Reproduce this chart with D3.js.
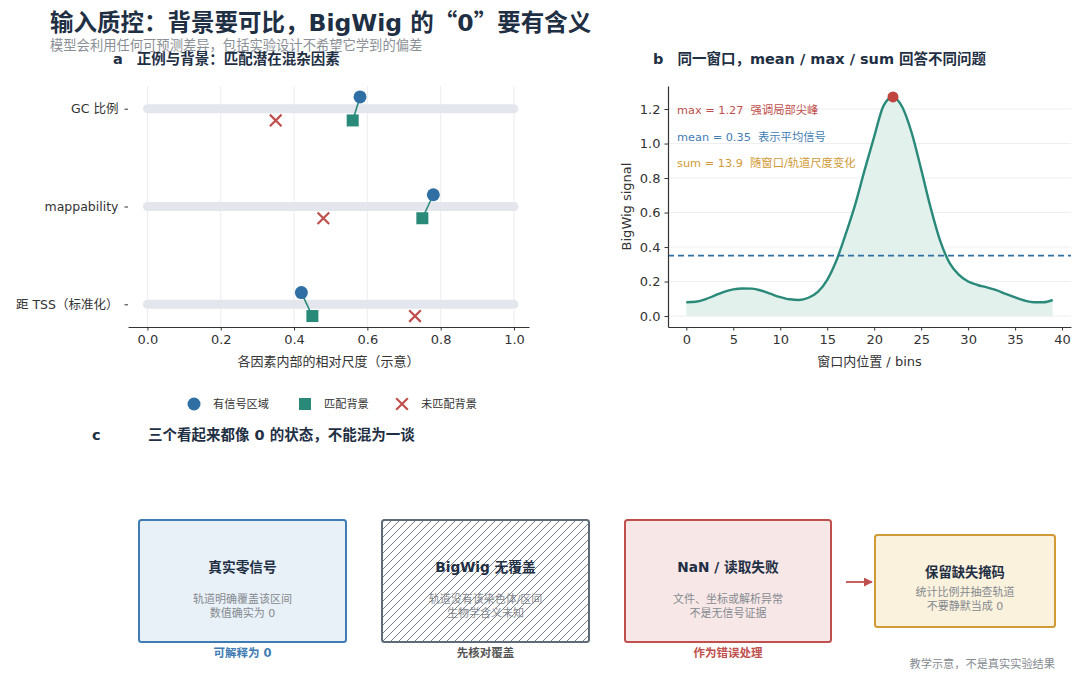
<!DOCTYPE html>
<html>
<head>
<meta charset="utf-8">
<script src="https://cdn.jsdelivr.net/npm/d3@7"></script>
<style>
  body { margin: 0; background: #fff; }
  svg { font-family: "DejaVu Sans", "Noto Sans CJK SC", sans-serif; }
</style>
</head>
<body>
<div id="chart"></div>
<script>
// ---- data ----
const factors = ['GC 比例', 'mappability', '距 TSS（标准化）'];
const signalRegion = [0.58, 0.78, 0.42];
const matchedBg = [0.56, 0.75, 0.45];
const unmatchedBg = [0.35, 0.48, 0.73];
const ticksA = [0, 0.2, 0.4, 0.6, 0.8, 1.0];
const legendLabels = ['有信号区域', '匹配背景', '未匹配背景'];

const bigwig = [0.08, 0.083, 0.097, 0.118, 0.14, 0.155, 0.16, 0.159, 0.147, 0.128,
                0.11, 0.097, 0.093, 0.106, 0.14, 0.21, 0.325, 0.48, 0.65, 0.85,
                1.04, 1.22, 1.27, 1.21, 1.06, 0.85, 0.63, 0.44, 0.31, 0.24,
                0.20, 0.18, 0.166, 0.15, 0.128, 0.108, 0.09, 0.08, 0.08, 0.093];
const ticksBx = [0, 5, 10, 15, 20, 25, 30, 35, 40];
const ticksBy = [0, 0.2, 0.4, 0.6, 0.8, 1.0, 1.2];
const meanValue = 0.35;
const statLines = ['max = 1.27  强调局部尖峰', 'mean = 0.35  表示平均信号', 'sum = 13.9  随窗口/轨道尺度变化'];

const boxTitles = ['真实零信号', 'BigWig 无覆盖', 'NaN / 读取失败', '保留缺失掩码'];
const boxLines = [
    ['轨道明确覆盖该区间', '数值确实为 0'],
    ['轨道没有该染色体/区间', '生物学含义未知'],
    ['文件、坐标或解析异常', '不是无信号证据'],
    ['统计比例并抽查轨道', '不要静默当成 0']
];
const boxCaptions = ['可解释为 0', '先核对覆盖', '作为错误处理', ''];

// ---- colours ----
const C = {
    blue: '#2f6fa3', teal: '#2a8a7a', red: '#c0504d', gold: '#d19a35',
    navy: '#1f2f44', grey: '#7a7f86', dark: '#333'
};
const CJK = '"Noto Sans CJK SC", sans-serif';

const W = 1080, H = 680;
const svg = d3.select('#chart').append('svg')
    .attr('width', W).attr('height', H);
svg.append('rect').attr('width', W).attr('height', H).attr('fill', '#fff');

// ---- titles ----
const title = svg.append('text').attr('x', 50).attr('y', 31)
    .attr('font-size', 23.5).attr('font-weight', 700).attr('fill', C.navy);
title.append('tspan').text('输入质控：背景要可比，BigWig 的');
title.append('tspan').attr('font-family', CJK).text('“');
title.append('tspan').text('0');
title.append('tspan').attr('font-family', CJK).text('”');
title.append('tspan').text('要有含义');

svg.append('text').attr('x', 50).attr('y', 50)
    .attr('font-size', 13.3).attr('fill', '#8a8f96')
    .text('模型会利用任何可预测差异，包括实验设计不希望它学到的偏差');

function panelTitle(x, y, letter, text) {
    let t = svg.append('text').attr('x', x).attr('y', y)
        .attr('font-size', 14.5).attr('font-weight', 700).attr('fill', C.navy);
    t.append('tspan').text(letter);
    t.append('tspan').attr('dx', 14).text(text);
}
panelTitle(113, 64, 'a', '正例与背景：匹配潜在混杂因素');
panelTitle(653, 64, 'b', '同一窗口，mean / max / sum 回答不同问题');
svg.append('text').attr('x', 92).attr('y', 440)
    .attr('font-size', 14.5).attr('font-weight', 700).attr('fill', C.navy).text('c');
svg.append('text').attr('x', 148).attr('y', 440)
    .attr('font-size', 14.5).attr('font-weight', 700).attr('fill', C.navy)
    .text('三个看起来都像 0 的状态，不能混为一谈');

function styleAxis(g) {
    g.attr('font-family', null).attr('font-size', null);
    g.selectAll('.domain').attr('stroke', '#333').attr('stroke-width', 1.2);
    g.selectAll('.tick line').attr('stroke', '#333');
    g.selectAll('.tick text').attr('fill', C.dark).attr('font-size', 13);
}

// ---- panel a ----
const xA = d3.scaleLinear().domain([-0.053, 1.041]).range([128, 529]);
const yA = d3.scaleLinear().domain([-0.232, 2.232]).range([86, 327]);
const off = 0.12;
const pa = svg.append('g');

pa.selectAll('line.grid').data(ticksA).join('line')
    .attr('x1', d => xA(d)).attr('x2', d => xA(d))
    .attr('y1', yA.range()[0]).attr('y2', yA.range()[1])
    .attr('stroke', '#ececef').attr('stroke-width', 1);

pa.selectAll('line.track').data(factors).join('line')
    .attr('x1', xA(0)).attr('x2', xA(1))
    .attr('y1', (d, i) => yA(i)).attr('y2', (d, i) => yA(i))
    .attr('stroke', '#e3e6ec').attr('stroke-width', 9).attr('stroke-linecap', 'round');

pa.selectAll('line.link').data(factors).join('line')
    .attr('x1', (d, i) => xA(signalRegion[i])).attr('y1', (d, i) => yA(i - off))
    .attr('x2', (d, i) => xA(matchedBg[i])).attr('y2', (d, i) => yA(i + off))
    .attr('stroke', C.teal).attr('stroke-width', 1.6);

pa.selectAll('circle.sig').data(signalRegion).join('circle')
    .attr('cx', d => xA(d)).attr('cy', (d, i) => yA(i - off))
    .attr('r', 6.5).attr('fill', C.blue);

pa.selectAll('rect.bg').data(matchedBg).join('rect')
    .attr('x', d => xA(d) - 6).attr('y', (d, i) => yA(i + off) - 6)
    .attr('width', 12).attr('height', 12).attr('fill', C.teal);

const cross = d3.symbol(d3.symbolX, 90);
pa.selectAll('path.um').data(unmatchedBg).join('path')
    .attr('d', cross)
    .attr('transform', (d, i) => `translate(${xA(d)},${yA(i + off)})`)
    .attr('fill', 'none').attr('stroke', C.red).attr('stroke-width', 2.2);

const axA = pa.append('g').attr('transform', 'translate(0,327)')
    .call(d3.axisBottom(xA).tickValues(ticksA).tickFormat(d3.format('.1f'))
        .tickSize(3.5).tickSizeOuter(0).tickPadding(4));
styleAxis(axA);
const ayA = pa.append('g').attr('transform', 'translate(128,0)')
    .call(d3.axisLeft(yA).tickValues([0, 1, 2]).tickFormat((d, i) => factors[i])
        .tickSize(3.5).tickSizeOuter(0).tickPadding(6));
styleAxis(ayA);
ayA.select('.domain').remove();
ayA.selectAll('.tick text').attr('font-size', 12.5);

pa.append('text').attr('x', (xA.range()[0] + xA.range()[1]) / 2).attr('y', 366)
    .attr('text-anchor', 'middle').attr('font-size', 13).attr('fill', C.dark)
    .text('各因素内部的相对尺度（示意）');

// legend
const lg = svg.append('g').attr('transform', 'translate(0,404)');
const lgX = [194, 305, 402];
lg.append('circle').attr('cx', lgX[0]).attr('cy', 0).attr('r', 6.5).attr('fill', C.blue);
lg.append('rect').attr('x', lgX[1] - 6).attr('y', -6).attr('width', 12).attr('height', 12).attr('fill', C.teal);
lg.append('path').attr('d', cross).attr('transform', `translate(${lgX[2]},0)`)
    .attr('fill', 'none').attr('stroke', C.red).attr('stroke-width', 2.2);
lg.selectAll('text').data(legendLabels).join('text')
    .attr('x', (d, i) => lgX[i] + 19).attr('y', 4)
    .attr('font-size', 11.2).attr('fill', C.dark).text(d => d);

// ---- panel b ----
const xB = d3.scaleLinear().domain([-1.95, 40.95]).range([668, 1071]);
const yB = d3.scaleLinear().domain([-0.0635, 1.3335]).range([327, 86]);
const pb = svg.append('g');

pb.selectAll('line.grid').data(ticksBy).join('line')
    .attr('x1', xB.range()[0]).attr('x2', xB.range()[1])
    .attr('y1', d => yB(d)).attr('y2', d => yB(d))
    .attr('stroke', '#efeff1').attr('stroke-width', 1);

const area = d3.area().x((d, i) => xB(i)).y0(yB(0)).y1(d => yB(d)).curve(d3.curveMonotoneX);
const line = d3.line().x((d, i) => xB(i)).y(d => yB(d)).curve(d3.curveMonotoneX);
pb.append('path').datum(bigwig).attr('d', area).attr('fill', '#e2f1ec');
pb.append('path').datum(bigwig).attr('d', line)
    .attr('fill', 'none').attr('stroke', C.teal).attr('stroke-width', 2.4);

pb.append('line').attr('x1', xB.range()[0]).attr('x2', xB.range()[1])
    .attr('y1', yB(meanValue)).attr('y2', yB(meanValue))
    .attr('stroke', C.blue).attr('stroke-width', 1.8).attr('stroke-dasharray', '6,4');

const peak = d3.maxIndex(bigwig);
pb.append('circle').attr('cx', xB(peak)).attr('cy', yB(bigwig[peak]))
    .attr('r', 5.5).attr('fill', '#c0443f');

pb.selectAll('text.stat').data(statLines).join('text')
    .attr('x', 677).attr('y', (d, i) => 114 + i * 26.7)
    .attr('font-size', 11.3).attr('fill', (d, i) => [C.red, '#3f7cb3', C.gold][i])
    .style('white-space', 'pre')
    .text(d => d);

const axB = pb.append('g').attr('transform', 'translate(0,327)')
    .call(d3.axisBottom(xB).tickValues(ticksBx).tickSize(3.5).tickSizeOuter(0).tickPadding(4));
styleAxis(axB);
const ayB = pb.append('g').attr('transform', 'translate(668,0)')
    .call(d3.axisLeft(yB).tickValues(ticksBy).tickFormat(d3.format('.1f'))
        .tickSize(3.5).tickSizeOuter(0).tickPadding(4));
styleAxis(ayB);

pb.append('text').attr('x', (xB.range()[0] + xB.range()[1]) / 2).attr('y', 366)
    .attr('text-anchor', 'middle').attr('font-size', 13).attr('fill', C.dark)
    .text('窗口内位置 / bins');
pb.append('text').attr('transform', `translate(631,${(yB.range()[0] + yB.range()[1]) / 2}) rotate(-90)`)
    .attr('text-anchor', 'middle').attr('font-size', 13).attr('fill', C.dark)
    .text('BigWig signal');

// ---- panel c ----
const defs = svg.append('defs');
defs.append('pattern').attr('id', 'hatch').attr('patternUnits', 'userSpaceOnUse')
    .attr('width', 8).attr('height', 8)
    .append('path').attr('d', 'M-2,2 l4,-4 M0,8 l8,-8 M6,10 l4,-4')
    .attr('stroke', '#66717e').attr('stroke-width', 0.9);
defs.append('marker').attr('id', 'arrow').attr('viewBox', '0 0 10 10')
    .attr('refX', 9).attr('refY', 5).attr('markerWidth', 5).attr('markerHeight', 5)
    .attr('orient', 'auto')
    .append('path').attr('d', 'M0,0 L10,5 L0,10 z').attr('fill', C.red);

const boxes = [
    { x: 139, y: 520, w: 207, h: 122, fill: '#e9f1f8', stroke: '#3f7cb3', cap: '#3f7cb3' },
    { x: 382, y: 520, w: 207, h: 122, fill: 'url(#hatch)', stroke: '#5f6b78', cap: '#555' },
    { x: 625, y: 520, w: 206, h: 122, fill: '#f7e7e7', stroke: C.red, cap: C.red },
    { x: 875, y: 535, w: 180, h: 92, fill: '#fbf2dd', stroke: C.gold, cap: C.gold }
];
const pc = svg.append('g');
const bg = pc.selectAll('g.box').data(boxes).join('g');
bg.append('rect')
    .attr('x', d => d.x).attr('y', d => d.y).attr('width', d => d.w).attr('height', d => d.h)
    .attr('rx', 2.5).attr('fill', d => d.fill).attr('stroke', d => d.stroke).attr('stroke-width', 2);
bg.append('text')
    .attr('x', d => d.x + d.w / 2).attr('y', (d, i) => i === 3 ? 577 : 572)
    .attr('text-anchor', 'middle').attr('font-size', (d, i) => i === 3 ? 13.3 : 13.7)
    .attr('font-weight', 700).attr('fill', C.navy)
    .text((d, i) => boxTitles[i]);
bg.each(function (d, i) {
    d3.select(this).selectAll('text.sub').data(boxLines[i]).join('text')
        .attr('x', d.x + d.w / 2).attr('y', (s, j) => (i === 3 ? 596 : 603) + j * 14)
        .attr('text-anchor', 'middle').attr('font-size', 11).attr('fill', '#858a90')
        .text(s => s);
});
bg.append('text')
    .attr('x', d => d.x + d.w / 2).attr('y', 657)
    .attr('text-anchor', 'middle').attr('font-size', 11.5).attr('font-weight', 700)
    .attr('fill', d => d.cap)
    .text((d, i) => boxCaptions[i]);

pc.append('line').attr('x1', 846).attr('x2', 872).attr('y1', 582).attr('y2', 582)
    .attr('stroke', C.red).attr('stroke-width', 1.8).attr('marker-end', 'url(#arrow)');

svg.append('text').attr('x', 1055).attr('y', 668).attr('text-anchor', 'end')
    .attr('font-size', 11.2).attr('fill', '#858a90')
    .text('教学示意，不是真实实验结果');
</script>
</body>
</html>
